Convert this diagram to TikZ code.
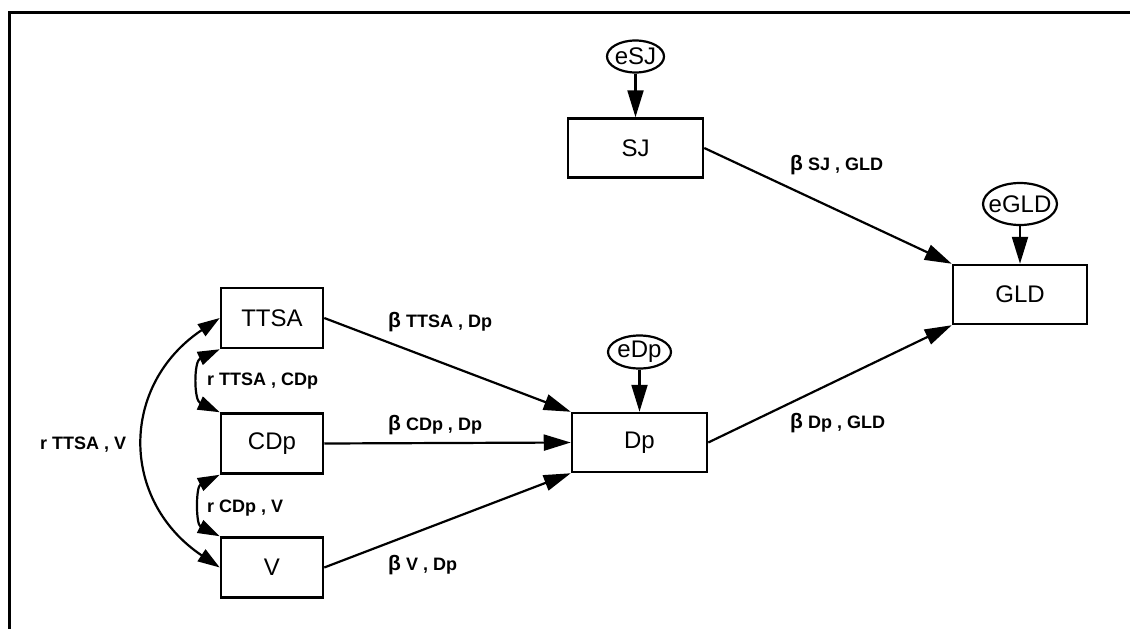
\documentclass[tikz,border=0pt]{standalone}
\usepackage{fontspec}
\setmainfont{Liberation Sans}
\usetikzlibrary{arrows.meta,shapes.geometric,calc}
\begin{document}
\begin{tikzpicture}[x=1pt,y=-1pt,
  box/.style={draw,line width=2.5pt,minimum width=135pt,minimum height=59pt,inner sep=0pt,font=\fontsize{24}{28}\selectfont},
  sbox/.style={box,minimum width=102pt,minimum height=60pt},
  err/.style={draw,ellipse,line width=2.2pt,inner sep=0pt,font=\fontsize{24}{28}\selectfont},
  arr/.style={line width=2.2pt,-{Triangle[length=27pt,width=16pt]}},
  darr/.style={line width=2.2pt,{Triangle[length=22pt,width=14pt]}-{Triangle[length=22pt,width=14pt]}},
  lab/.style={anchor=west,inner sep=0pt,font=\fontsize{18}{21}\selectfont\bfseries},
]
\useasboundingbox (0,0) rectangle (1130,629);
\fill[white] (0,0) rectangle (1130,629);
% frame
\draw[line width=3pt] (9.5,629) -- (9.5,12) -- (1130,12);

% boxes
\node[box] (SJ) at (635.5,148) {SJ};
\node[box,minimum width=134pt] (GLD) at (1020,294.5) {GLD};
\node[box] (Dp) at (639.5,442.5) {Dp};
\node[sbox] (TTSA) at (272,318) {TTSA};
\node[sbox] (CDp) at (272,443.5) {CDp};
\node[sbox] (V) at (272,567.5) {V};

% error terms
\node[err,minimum width=57pt,minimum height=32pt] (eSJ) at (635.5,56.5) {\makebox[0pt]{eSJ}};
\node[err,minimum width=63pt,minimum height=33pt] (eDp) at (639.5,352) {\makebox[0pt]{eDp}};
\node[err,minimum width=74pt,minimum height=42pt] (eGLD) at (1020,204) {\makebox[0pt]{eGLD}};

% paths
\draw[arr] (eSJ.south) -- (SJ.north);
\draw[arr] (eDp.south) -- (Dp.north);
\draw[arr] (eGLD.south) -- (GLD.north);
\draw[arr] (SJ.east) -- (GLD.north west);
\draw[arr] (Dp.east) -- (GLD.south west);
\draw[arr] (TTSA.east) -- (Dp.north west);
\draw[arr] (CDp.east) -- (Dp.west);
\draw[arr] (V.east) -- (Dp.south west);

% correlations
\draw[darr] (TTSA.west) .. controls ($(TTSA.west)+(-100,67)$) and ($(V.west)+(-100,-67)$) .. (V.west);
\draw[darr] (TTSA.south west) .. controls ($(TTSA.south west)+(-26,12)$) and ($(CDp.north west)+(-26,-12)$) .. (CDp.north west);
\draw[darr] (CDp.south west) .. controls ($(CDp.south west)+(-24,12)$) and ($(V.north west)+(-24,-12)$) .. (V.north west);

% labels
\newcommand{\bt}{{\fontsize{21}{21}\selectfont β}}
\node[lab] (lSJ) at (790,165) {\bt\ SJ , GLD};
\node[lab] (lTT) at (388,322) {\bt\ TTSA , Dp};
\node[lab] (lCD) at (388,425) {\bt\ CDp , Dp};
\node[lab] (lV) at (388,565) {\bt\ V , Dp};
\node[lab] (lDp) at (790,423) {\bt\ Dp , GLD};
\node[lab] (rTC) at (207,381) {r TTSA , CDp};
\node[lab] (rTV) at (40,445) {r TTSA , V};
\node[lab] (rCV) at (207,508) {r CDp , V};
\end{tikzpicture}
\end{document}
